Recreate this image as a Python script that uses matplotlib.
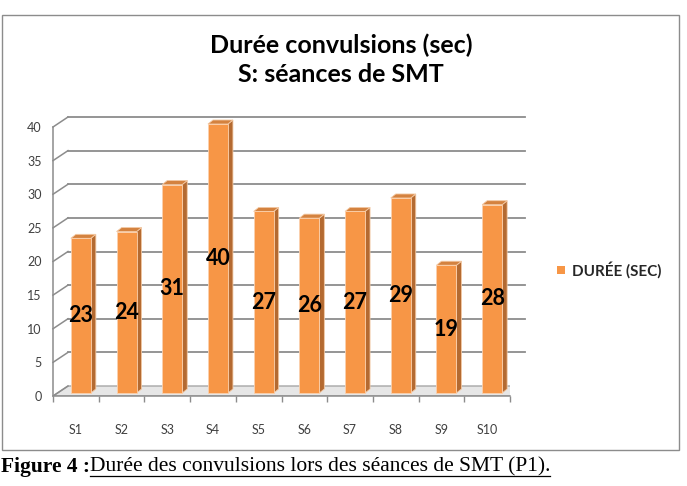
import numpy as np
import matplotlib.pyplot as plt
from matplotlib.patches import Rectangle, Polygon
from matplotlib.lines import Line2D

# Données
seances = ['S1', 'S2', 'S3', 'S4', 'S5', 'S6', 'S7', 'S8', 'S9', 'S10']
duree = [23, 24, 31, 40, 27, 26, 27, 29, 19, 28]
yticks = [0, 5, 10, 15, 20, 25, 30, 35, 40]

W, H = 687, 486
fig = plt.figure(figsize=(W / 100, H / 100), dpi=100)

# cadre du graphique
fig.patches.append(Rectangle((2 / W, 1 - 450 / H), 677 / W, 435 / H,
                             transform=fig.transFigure, fill=False,
                             edgecolor='#8c8c8c', linewidth=1.0))

ax = fig.add_axes([53 / W, 1 - 396 / H, 457 / W, 269 / H])
ax.set_xlim(-0.5, len(seances) - 0.5)
ax.set_ylim(0, 40)
for s in ax.spines.values():
    s.set_visible(False)

# conversion pixels -> unités de données
px_x = 457 / 10
px_y = 269 / 40
bx, by = 15 / px_x, 10 / px_y      # profondeur du mur du fond
dx, dy = 5 / px_x, 4 / px_y        # profondeur des barres
fx, fy = 5 / px_x, 3 / px_y        # décalage de la face avant
x0, x1 = -0.5, len(seances) - 0.5

grid_col = '#8c8c8c'
# sol
ax.add_patch(Polygon([(x0, 0), (x1, 0), (x1 + bx, by), (x0 + bx, by)],
                     closed=True, facecolor='#e6e6e6', edgecolor='#a6a6a6',
                     linewidth=1.0, zorder=1))
# grille du fond + mur gauche
for t in yticks:
    if t == 0:
        continue
    ax.plot([x0 + bx, x1 + bx], [t + by, t + by], color=grid_col, lw=1.3,
            zorder=1, clip_on=False)
    ax.plot([x0, x0 + bx], [t, t + by], color=grid_col, lw=1.1, zorder=1,
            clip_on=False)
ax.plot([x0, x0 + bx], [0, by], color=grid_col, lw=1.1, zorder=1)
ax.plot([x0, x0], [0, 40], color=grid_col, lw=1.1, zorder=1, clip_on=False)
ax.plot([x0, x1], [0, 0], color=grid_col, lw=1.1, zorder=1, clip_on=False)

# barres 3D
xs = np.arange(len(seances))
bw = 20 / px_x
front_col = '#f79646'
side_col = '#b46a31'
top_col = '#d4823f'
for x, v in zip(xs, duree):
    xl = x + fx - bw / 2
    xr = x + fx + bw / 2
    yb = fy
    yt = v + fy
    ax.add_patch(Polygon([(xr, yb), (xr + dx, yb + dy), (xr + dx, yt + dy), (xr, yt)],
                         closed=True, facecolor=side_col, edgecolor='#f3c9a4',
                         linewidth=0.6, zorder=3, clip_on=False))
    ax.add_patch(Polygon([(xl, yt), (xr, yt), (xr + dx, yt + dy), (xl + dx, yt + dy)],
                         closed=True, facecolor=top_col, edgecolor='#f3c9a4',
                         linewidth=0.6, zorder=3, clip_on=False))
    ax.add_patch(Rectangle((xl, yb), bw, v, facecolor=front_col,
                           edgecolor='#fbd1ae', linewidth=0.6, zorder=4,
                           clip_on=False))
    ax.text(x + fx, v / 2 + fy, str(v), ha='center', va='center',
            fontsize=15.5, fontweight='bold', family='Lato', color='black',
            zorder=5)

# axes et étiquettes
ax.set_yticks(yticks)
ax.set_yticklabels([str(t) for t in yticks], family='Lato', fontsize=9,
                   color='#404040')
ax.set_xticks(xs)
ax.set_xticklabels(seances, family='Lato', fontsize=9, color='#404040')
ax.set_xticks(np.arange(-0.5, len(seances)), minor=True)
ax.tick_params(axis='y', length=0, pad=8)
ax.tick_params(axis='x', which='major', length=0, pad=20)
ax.tick_params(axis='x', which='minor', length=4, width=1, color=grid_col,
               direction='out')

# titre
fig.text(341 / W, 1 - 45 / H, 'Durée convulsions (sec)', ha='center',
         va='center', fontsize=18, fontweight='bold', family='Lato')
fig.text(341 / W, 1 - 75 / H, 'S: séances de SMT', ha='center',
         va='center', fontsize=18, fontweight='bold', family='Lato')

# légende
fig.patches.append(Rectangle((557 / W, 1 - 274 / H), 8 / W, 8 / H,
                             transform=fig.transFigure, facecolor=front_col,
                             edgecolor='none'))
fig.text(572 / W, 1 - 270 / H, 'DURÉE (SEC)', ha='left', va='center',
         fontsize=11, fontweight='bold', family='Lato', color='#262626')

# légende de la figure
t1 = fig.text(1 / W, 1 - 467 / H, 'Figure 4 :', ha='left', va='center',
              fontsize=15.5, fontweight='bold', family='Liberation Serif')
fig.canvas.draw()
bb = t1.get_window_extent()
t2 = fig.text(bb.x1 / W, 1 - 467 / H,
              'Durée des convulsions lors des séances de SMT (P1).',
              ha='left', va='center', fontsize=15.5, family='Liberation Serif')
fig.canvas.draw()
bb2 = t2.get_window_extent()
fig.add_artist(Line2D([bb2.x0 / W, bb2.x1 / W], [(bb2.y0 + 1) / H, (bb2.y0 + 1) / H],
                      transform=fig.transFigure, color='black', lw=0.9))

fig.savefig('out.png', dpi=100)
